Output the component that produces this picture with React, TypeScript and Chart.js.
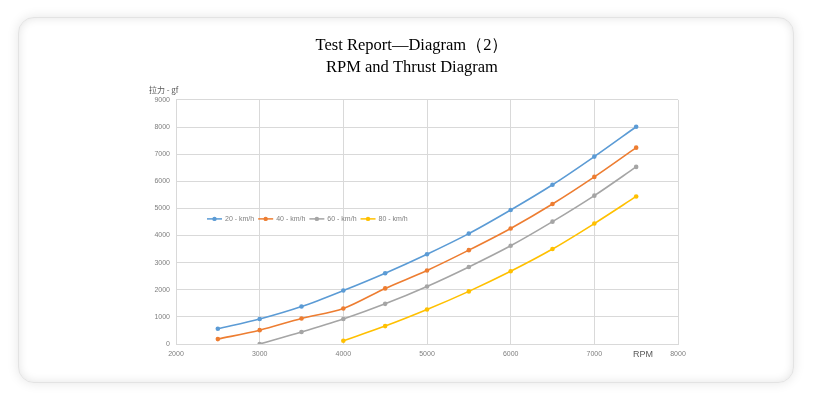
import React, { useEffect, useRef } from "react";
import { Chart, registerables } from "chart.js";

Chart.register(...registerables);

const titleLines = ["Test Report—Diagram（2）", "RPM and Thrust Diagram"];
const yAxisTitle = "拉力 - gf";
const xAxisTitle = "RPM";

const rpm20 = [2500, 3000, 3500, 4000, 4500, 5000, 5500, 6000, 6500, 7000, 7500];
const thrust20 = [560, 920, 1380, 1970, 2610, 3310, 4070, 4940, 5870, 6910, 8010];

const rpm40 = [2500, 3000, 3500, 4000, 4500, 5000, 5500, 6000, 6500, 7000, 7500];
const thrust40 = [180, 510, 940, 1310, 2050, 2710, 3460, 4260, 5160, 6160, 7240];

const rpm60 = [3000, 3500, 4000, 4500, 5000, 5500, 6000, 6500, 7000, 7500];
const thrust60 = [0, 440, 920, 1480, 2120, 2840, 3620, 4510, 5470, 6530];

const rpm80 = [4000, 4500, 5000, 5500, 6000, 6500, 7000, 7500];
const thrust80 = [120, 660, 1270, 1940, 2680, 3500, 4440, 5440];

const seriesNames = ["20 - km/h", "40 - km/h", "60 - km/h", "80 - km/h"];
const seriesColors = ["#5b9bd5", "#ed7d31", "#a5a5a5", "#ffc000"];

const toPoints = (xs: number[], ys: number[]) => xs.map((x, i) => ({ x, y: ys[i] }));

const tickFont = { family: "'Liberation Sans', Arial, sans-serif", size: 7 };

const extrasPlugin = {
  id: "extras",
  afterDraw(chart: any) {
    const { ctx, chartArea } = chart;
    ctx.save();
    ctx.fillStyle = "#595959";
    ctx.font = "8px 'Noto Sans CJK SC', sans-serif";
    ctx.textAlign = "left";
    ctx.textBaseline = "middle";
    ctx.fillText(yAxisTitle, chartArea.left - 27, chartArea.top - 10);
    ctx.font = "9px 'Liberation Sans', Arial, sans-serif";
    ctx.textAlign = "center";
    ctx.fillText(xAxisTitle, chartArea.right - 35, chartArea.bottom + 11);
    ctx.font = "7px 'Liberation Sans', Arial, sans-serif";
    ctx.textAlign = "left";
    let x = chartArea.left + 31;
    const y = chartArea.top + 119;
    chart.data.datasets.forEach((ds: any) => {
      ctx.strokeStyle = ds.borderColor;
      ctx.lineWidth = 1.5;
      ctx.beginPath();
      ctx.moveTo(x, y);
      ctx.lineTo(x + 15, y);
      ctx.stroke();
      ctx.fillStyle = ds.borderColor;
      ctx.beginPath();
      ctx.arc(x + 7.5, y, 2.2, 0, Math.PI * 2);
      ctx.fill();
      ctx.fillStyle = "#7f7f7f";
      ctx.fillText(ds.label, x + 18, y + 0.5);
      x += 18 + ctx.measureText(ds.label).width + 4;
    });
    ctx.restore();
  },
};

export default function App() {
  const canvasRef = useRef<HTMLCanvasElement | null>(null);

  useEffect(() => {
    if (!canvasRef.current) return;
    const pts = [
      toPoints(rpm20, thrust20),
      toPoints(rpm40, thrust40),
      toPoints(rpm60, thrust60),
      toPoints(rpm80, thrust80),
    ];
    const chart = new Chart(canvasRef.current, {
      type: "line",
      data: {
        datasets: pts.map((data, i) => ({
          label: seriesNames[i],
          data,
          borderColor: seriesColors[i],
          backgroundColor: seriesColors[i],
          borderWidth: 1.6,
          pointRadius: 2.3,
          pointHoverRadius: 2.3,
          pointBorderWidth: 0,
          tension: 0.3,
          fill: false,
        })),
      },
      options: {
        animation: false,
        responsive: false,
        maintainAspectRatio: false,
        layout: { padding: { left: 146, right: 147, top: 35, bottom: 34 } },
        plugins: {
          legend: { display: false },
          tooltip: { enabled: false },
          title: {
            display: true,
            text: titleLines,
            color: "#000000",
            font: { family: "'Liberation Serif', 'Times New Roman', serif", size: 16.5, lineHeight: 1.33, weight: "normal" },
            padding: { top: 0, bottom: 21 },
          },
        },
        scales: {
          x: {
            type: "linear",
            min: 2000,
            max: 8000,
            ticks: { stepSize: 1000, color: "#7f7f7f", font: tickFont, padding: 6, maxRotation: 0, callback: (v: any) => String(v) },
            grid: { color: "#d9d9d9", lineWidth: 1, drawTicks: false },
            border: { color: "#d9d9d9" },
            afterFit: (s: any) => { s.height = 20; },
          },
          y: {
            min: 0,
            max: 9000,
            ticks: { stepSize: 1000, color: "#7f7f7f", font: tickFont, padding: 6, callback: (v: any) => String(v) },
            grid: { color: "#d9d9d9", lineWidth: 1, drawTicks: false },
            border: { color: "#d9d9d9" },
            afterFit: (s: any) => { s.width = 30; },
          },
        },
      },
      plugins: [extrasPlugin],
    });
    return () => chart.destroy();
  }, []);

  return (
    <div style={{ position: "fixed", left: 0, top: 0, width: 825, height: 398, background: "#ffffff", overflow: "hidden" }}>
      <div
        style={{
          position: "absolute",
          left: 18,
          top: 17,
          width: 776,
          height: 366,
          boxSizing: "border-box",
          borderRadius: 16,
          border: "1px solid #e3e3e3",
          background: "#ffffff",
          boxShadow: "0 0 12px rgba(0,0,0,0.10), inset 0 0 10px rgba(0,0,0,0.11)",
        }}
      />
      <canvas ref={canvasRef} width={825} height={398} style={{ position: "absolute", left: 0, top: 0 }} />
    </div>
  );
}
